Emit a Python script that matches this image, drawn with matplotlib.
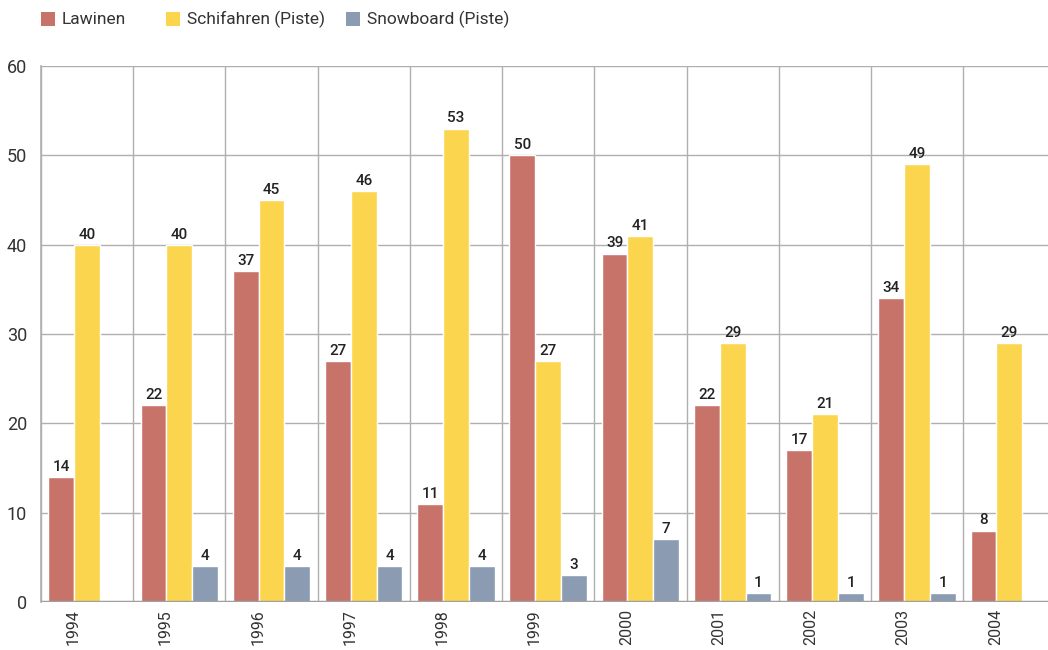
"""Ski accident statistics per year — grouped bar chart."""
import numpy as np
import matplotlib
matplotlib.use("Agg")
import matplotlib.pyplot as plt
from matplotlib.patches import Rectangle

plt.rcParams["font.family"] = ["Roboto", "DejaVu Sans"]

years = ["1994", "1995", "1996", "1997", "1998", "1999",
         "2000", "2001", "2002", "2003", "2004"]
lawinen = [14, 22, 37, 27, 11, 50, 39, 22, 17, 34, 8]
schifahren = [40, 40, 45, 46, 53, 27, 41, 29, 21, 49, 29]
snowboard = [np.nan, 4, 4, 4, 4, 3, 7, 1, 1, 1, np.nan]

series = [
    ("Lawinen", lawinen, "#C8736A"),
    ("Schifahren (Piste)", schifahren, "#FCD54F"),
    ("Snowboard (Piste)", snowboard, "#8A9BB2"),
]

grid_col = "#AFAFAF"
text_col = "#333333"

W, H = 1048, 650
fig = plt.figure(figsize=(W / 100, H / 100), dpi=100)
ax = fig.add_axes([41 / W, 48 / H, 1 - 41 / W, 536 / H])

x = np.arange(len(years))
width = 0.28

for i, (name, vals, col) in enumerate(series):
    pos = x + (i - 1) * width
    ax.bar(pos, vals, width, color=col, edgecolor="white",
           linewidth=1.0, zorder=3)
    for xp, v in zip(pos, vals):
        if np.isnan(v):
            continue
        ax.text(xp, v + 0.35, f"{v:.0f}", ha="center", va="bottom",
                fontsize=11, color="#222222", fontweight="medium")

# category separators and horizontal grid
for b in np.arange(-0.5, len(years) + 0.5, 1.0):
    ax.axvline(b, color=grid_col, linewidth=1.0, zorder=1)
for yv in range(10, 61, 10):
    ax.axhline(yv, color=grid_col, linewidth=1.0, zorder=1)
ax.axhline(0, color="#A0A0A0", linewidth=2.5, zorder=4)

ax.set_ylim(0, 60)
ax.set_xlim(-0.5, len(years) - 0.58)
ax.set_yticks(range(0, 61, 10))
ax.set_xticks(x - 0.15)
ax.set_xticklabels(years, rotation=90, fontsize=11.5, color=text_col)
ax.tick_params(axis="y", labelsize=13, colors=text_col, length=0, pad=10)
ax.tick_params(axis="x", length=0, pad=5)

for side in ["top", "right", "bottom"]:
    ax.spines[side].set_visible(False)
ax.spines["left"].set_color(grid_col)
ax.spines["left"].set_linewidth(1.2)

# legend row along the top edge
for (name, _, col), lx in zip(series, [41, 166, 346]):
    fig.patches.append(Rectangle((lx / W, 1 - 26 / H), 14 / W, 14 / H,
                                 facecolor=col, edgecolor="none",
                                 transform=fig.transFigure, figure=fig))
    fig.text((lx + 21) / W, 1 - 19 / H, name, ha="left", va="center",
             fontsize=12.5, color=text_col)

fig.savefig("out.png", dpi=100)
